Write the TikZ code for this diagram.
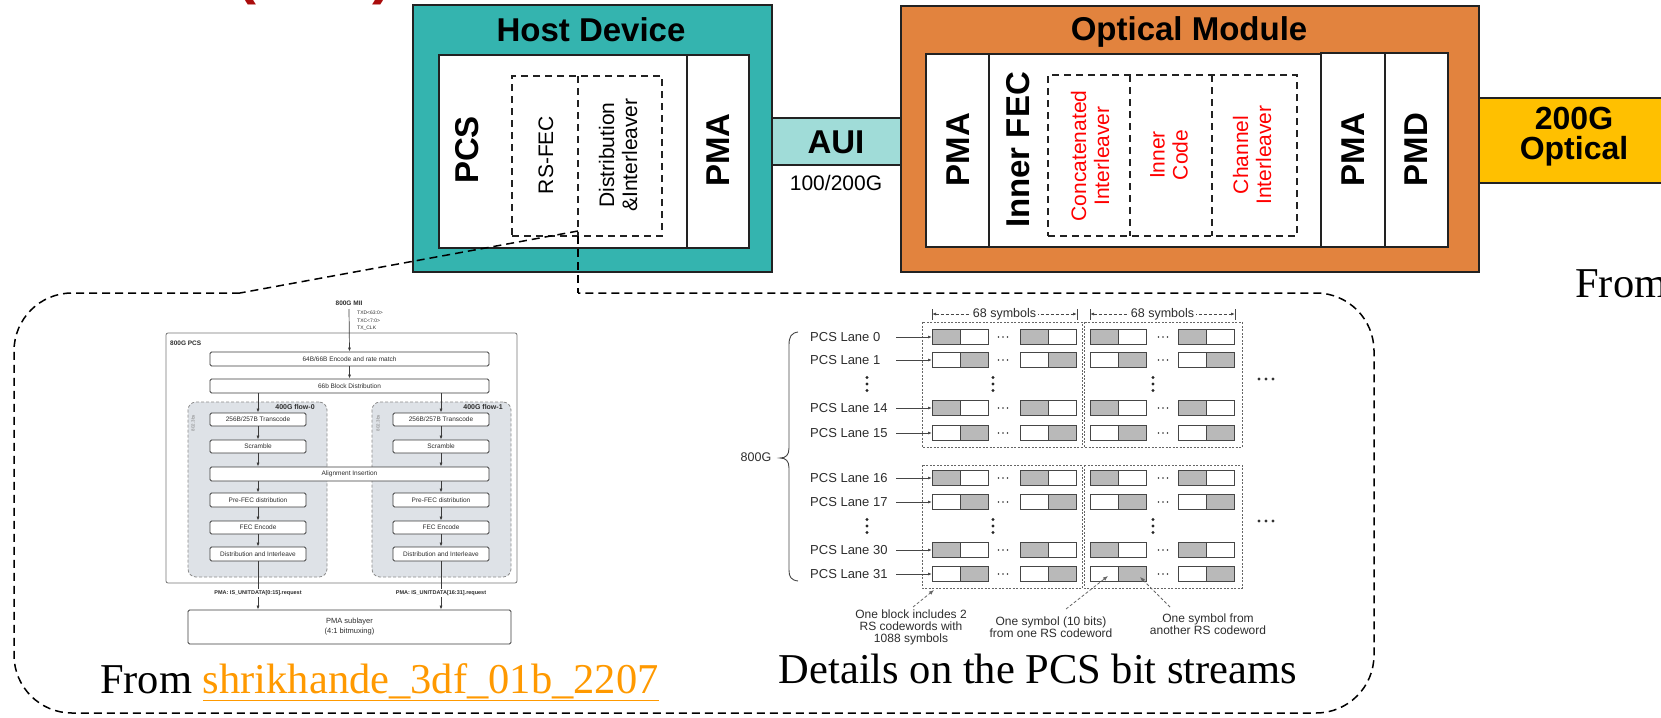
\documentclass[tikz,border=0pt]{standalone}
\usepackage{fontspec}
\setmainfont{Liberation Sans}
\newfontfamily\timesf{Liberation Serif}
\usetikzlibrary{arrows.meta}
\definecolor{tealc}{RGB}{52,180,175}
\definecolor{auic}{RGB}{160,220,216}
\definecolor{orngc}{RGB}{226,131,62}
\definecolor{goldc}{RGB}{255,192,0}
\definecolor{linko}{RGB}{255,153,0}
\definecolor{dredc}{RGB}{170,12,12}
\definecolor{edge}{RGB}{34,34,34}
\definecolor{flowg}{RGB}{222,226,231}
\definecolor{hatchc}{RGB}{185,185,185}
\definecolor{pline}{RGB}{60,60,60}
\definecolor{ptext}{RGB}{45,45,45}
\definecolor{sline}{RGB}{70,70,70}
\newcommand{\fsz}[1]{\fontsize{#1}{#1}\selectfont}
\newcommand{\symb}[3]{%
  \ifnum#3=1\relax
    \fill[hatchc] (#1,#2-7.5) rectangle (#1+28,#2+7.5);
  \else
    \fill[hatchc] (#1+28,#2-7.5) rectangle (#1+56,#2+7.5);
  \fi
  \draw[sline, line width=0.8pt] (#1,#2-7.5) rectangle (#1+56,#2+7.5);
  \draw[sline, line width=0.8pt] (#1+28,#2-7.5) -- (#1+28,#2+7.5);}
\newcommand{\mydotsh}[4]{\foreach \kk in {-1,0,1}{\fill[black!80] (#1+\kk*#3,#2) circle (#4);}}
\newcommand{\mydotsv}[2]{\foreach \kk in {-1,0,1}{\fill[black!85] (#1,#2+\kk*6.5) circle (1.6pt);}}
\begin{document}
\begin{tikzpicture}[x=1pt,y=-1pt,
  hbold/.style={font=\bfseries\fsz{33}, inner sep=0},
  rtext/.style={text=red, font=\fontsize{21}{23}\selectfont, align=center, rotate=90, inner sep=0},
  btext/.style={font=\fontsize{21}{23}\selectfont, align=center, rotate=90, inner sep=0},
  wbox/.style={draw=edge, line width=2pt, fill=white, inner sep=0},
  hdash/.style={draw=edge, line width=1.8pt, dash pattern=on 7pt off 5pt},
  callout/.style={draw=black, line width=1.5pt, dash pattern=on 8pt off 5pt},
  pbox/.style={draw=pline, line width=0.8pt, fill=white, rounded corners=1.5pt, inner sep=0, font=\fsz{6.5}, text=ptext},
  parr/.style={draw=pline, line width=0.7pt, -{Latex[length=4pt,width=3pt]}},
  flowbox/.style={draw=black!45, fill=flowg, dash pattern=on 3pt off 2pt, line width=0.8pt, rounded corners=8pt, inner sep=0},
  lane/.style={font=\fsz{13}, text=ptext, inner sep=0, anchor=west},
  blkdash/.style={draw=black!60, line width=0.8pt, dash pattern=on 2pt off 1.5pt},
  ann/.style={font=\fontsize{12}{12}\selectfont, text=ptext, align=center, inner sep=0},
  anndash/.style={draw=black!60, line width=0.8pt, dash pattern=on 3pt off 2pt, -{Latex[length=5pt,width=4pt]}},
  captxt/.style={font=\timesf\fsz{42.5}, inner sep=0}]
\useasboundingbox (0,0) rectangle (1661,717);

% cut-off red title
\node[anchor=base west, inner sep=0, text=dredc, font=\bfseries\fsz{60}] (tl) at (236,-7) {(};
\node[anchor=base west, inner sep=0, text=dredc, font=\bfseries\fsz{60}] (tr) at (372,-7) {)};

% Host device
\node[draw=edge, line width=2.5pt, fill=tealc, minimum width=359pt, minimum height=267pt, inner sep=0] (host) at (592.5,138.5) {};
\node[hbold] (hostt) at (591,30) {Host Device};
\node[wbox, minimum width=248pt, minimum height=193pt] (pcsb) at (563,151.5) {};
\node[wbox, minimum width=62pt, minimum height=193pt] (hpmab) at (718,151.5) {};
\node[hbold, rotate=90] (pcst) at (467,150) {PCS};
\node[hbold, rotate=90] (hpmat) at (718,150) {PMA};
\node[hdash, minimum width=150pt, minimum height=160pt, inner sep=0] (hd) at (587,156) {};
\coordinate (hdt) at (578,76);
\coordinate (hdb) at (578,236);
\draw[hdash] (hdt) -- (hdb);
\node[btext] (rsfec) at (546,155) {RS-FEC};
\node[btext] (distr) at (618,155) {Distribution\\\&Interleaver};

% AUI
\node[draw=edge, line width=2pt, fill=auic, minimum width=129pt, minimum height=47pt, inner sep=0] (aui) at (836.5,141.5) {};
\node[hbold] (auit) at (836,142) {AUI};
\node[font=\fsz{21}, inner sep=0] (auir) at (836,183) {100/200G};

% Optical module
\node[draw=edge, line width=2.5pt, fill=orngc, minimum width=578pt, minimum height=266pt, inner sep=0] (om) at (1190,139) {};
\node[hbold] (omt) at (1189,32) {Optical Module};
\node[wbox, minimum width=63pt, minimum height=193pt] (opma1) at (957.5,150.5) {};
\node[wbox, minimum width=332pt, minimum height=193pt] (ofec) at (1155,150.5) {};
\node[wbox, minimum width=64pt, minimum height=194pt] (opma2) at (1353,150) {};
\node[wbox, minimum width=63pt, minimum height=194pt] (opmd) at (1416.5,150) {};
\node[hdash, minimum width=249pt, minimum height=161pt, inner sep=0] (od) at (1172.5,155.5) {};
\coordinate (od1t) at (1130,75);
\coordinate (od1b) at (1130,236);
\coordinate (od2t) at (1212,75);
\coordinate (od2b) at (1212,236);
\draw[hdash] (od1t) -- (od1b);
\draw[hdash] (od2t) -- (od2b);
\node[hbold, rotate=90] (opma1t) at (958,149.5) {PMA};
\node[hbold, rotate=90] (ofect) at (1018,150) {Inner FEC};
\node[rtext] (conc) at (1090,156) {Concatenated\\Interleaver};
\node[rtext] (inco) at (1169,155) {Inner\\Code};
\node[rtext] (chan) at (1252,155) {Channel\\Interleaver};
\node[hbold, rotate=90] (opma2t) at (1353,149.5) {PMA};
\node[hbold, rotate=90] (opmdt) at (1416,149.5) {PMD};

% 200G optical
\node[draw=edge, line width=2.5pt, fill=goldc, minimum width=200pt, minimum height=85pt, inner sep=0] (g200) at (1579,140.5) {};
\node[font=\bfseries\fontsize{32}{30}\selectfont, align=center, inner sep=0] (g200t) at (1574,137) {200G\\Optical};

\node[captxt, anchor=base west] (from2) at (1575,297) {From};

% call-out
\coordinate (zA) at (578,231);
\coordinate (zL) at (240,293);
\coordinate (c1) at (14,293);
\coordinate (c2) at (14,713);
\coordinate (c3) at (1374,713);
\coordinate (c4) at (1374,293);
\coordinate (zR) at (578,293);
\draw[callout] (zA) -- (zL);
\draw[callout, rounded corners=58pt] (zL) -- (c1) -- (c2) -- (c3) -- (c4) -- (zR);
\draw[callout] (hdb) -- (zR);

% ---- 800G PCS figure
\node[draw=black!55, line width=0.8pt, rounded corners=2pt, minimum width=351pt, minimum height=250pt, inner sep=0] (pcsfig) at (341.5,458) {};
\node[flowbox, minimum width=139pt, minimum height=175pt] (fl0) at (257.5,489.5) {};
\node[flowbox, minimum width=139pt, minimum height=175pt] (fl1) at (441.5,489.5) {};
\node[font=\bfseries\fsz{6.5}, text=ptext, inner sep=0] (mii) at (349,303) {800G MII};
\node[font=\fsz{5}, text=ptext, inner sep=0, anchor=west] (txd) at (357,313) {TXD<63:0>};
\node[font=\fsz{5}, text=ptext, inner sep=0, anchor=west] (txc) at (357,321) {TXC<7:0>};
\node[font=\fsz{5}, text=ptext, inner sep=0, anchor=west] (txk) at (357,328) {TX\_CLK};
\node[font=\bfseries\fsz{6.5}, text=ptext, inner sep=0, anchor=west] (pcsl) at (170,343) {800G PCS};
\node[font=\bfseries\fsz{7}, text=ptext, inner sep=0] (f0l) at (295,407) {400G flow-0};
\node[font=\bfseries\fsz{7}, text=ptext, inner sep=0] (f1l) at (483,407) {400G flow-1};
\node[font=\fsz{4.5}, text=black!50, inner sep=0, rotate=90] (bs0) at (193,423) {802.3bs};
\node[font=\fsz{4.5}, text=black!50, inner sep=0, rotate=90] (bs1) at (378,423) {802.3bs};
\node[pbox, minimum width=279pt, minimum height=14pt] (enc) at (349.5,359) {64B/66B Encode and rate match};
\node[pbox, minimum width=279pt, minimum height=14pt] (d66) at (349.5,386) {66b Block Distribution};
\node[pbox, minimum width=279pt, minimum height=14pt] (al) at (349.5,474) {Alignment Insertion};
\foreach \c/\xx in {0/258,1/441}{
  \node[pbox, minimum width=96pt, minimum height=13pt] (tc\c) at (\xx,419.5) {256B/257B Transcode};
  \node[pbox, minimum width=96pt, minimum height=13pt] (sc\c) at (\xx,446.5) {Scramble};
  \node[pbox, minimum width=96pt, minimum height=14pt] (pf\c) at (\xx,500) {Pre-FEC distribution};
  \node[pbox, minimum width=96pt, minimum height=13pt] (fe\c) at (\xx,527.5) {FEC Encode};
  \node[pbox, minimum width=96pt, minimum height=14pt] (di\c) at (\xx,554) {Distribution and Interleave};
}
\node[pbox, minimum width=323pt, minimum height=34pt, align=center, font=\fontsize{7.5}{10}\selectfont] (pmas) at (349.5,627) {PMA sublayer\\(4:1 bitmuxing)};
\coordinate (miib) at (349,309);
\draw[parr] (miib) -- (enc.north);
\draw[parr] (enc.south) -- (d66.north);
\foreach \c in {0,1}{
  \draw[parr] (d66.south -| tc\c.north) -- (tc\c.north);
  \draw[parr] (tc\c.south) -- (sc\c.north);
  \draw[parr] (sc\c.south) -- (al.north -| sc\c.south);
  \draw[parr] (al.south -| pf\c.north) -- (pf\c.north);
  \draw[parr] (pf\c.south) -- (fe\c.north);
  \draw[parr] (fe\c.south) -- (di\c.north);
  \draw[parr] (di\c.south) -- (pmas.north -| di\c.south);
}
\node[font=\bfseries\fsz{5.5}, text=ptext, fill=white, inner sep=1pt] (u0) at (258,593) {PMA: IS\_UNITDATA[0:15].request};
\node[font=\bfseries\fsz{5.5}, text=ptext, fill=white, inner sep=1pt] (u1) at (441,593) {PMA: IS\_UNITDATA[16:31].request};

% ---- PCS bit streams figure
\draw[blkdash] (922,322) rectangle (1082,447);
\draw[blkdash] (1084,322) rectangle (1242,447);
\draw[blkdash] (922,465) rectangle (1082,588);
\draw[blkdash] (1084,465) rectangle (1242,588);
\foreach \yy/\hh in {337/1,360/0,408/1,433/0,478/1,502/0,550/1,574/0}{
  \foreach \xx in {932,1020,1090,1178}{\symb{\xx}{\yy}{\hh}}
  \mydotsh{1003}{\yy}{4.5}{0.9pt}
  \mydotsh{1163}{\yy}{4.5}{0.9pt}
}
\foreach \yy/\lnum in {337/0,360/1,408/14,433/15,478/16,502/17,550/30,574/31}{
  \node[lane] (lane\lnum) at (810,\yy) {PCS Lane \lnum};
  \coordinate (ls\lnum) at (896,\yy);
  \coordinate (le\lnum) at (932,\yy);
  \draw[draw=sline, line width=0.8pt, -{Latex[length=4pt,width=3pt]}] (ls\lnum) -- (le\lnum);
}
\foreach \yy in {384,526}{
  \mydotsv{867}{\yy}
  \mydotsv{993}{\yy}
  \mydotsv{1153}{\yy}
}
\mydotsh{1266}{379}{7}{1.6pt}
\mydotsh{1266}{521}{7}{1.6pt}
\foreach \aa/\bb in {932/1077,1090/1235}{
  \draw[sline, line width=0.8pt] (\aa,309) -- (\aa,320);
  \draw[sline, line width=0.8pt] (\bb,309) -- (\bb,320);
  \draw[sline, line width=0.8pt, dash pattern=on 3pt off 2pt, {Latex[length=4pt,width=3pt]}-{Latex[length=4pt,width=3pt]}] (\aa,314) -- (\bb,314);
  \node[font=\fsz{12.5}, text=ptext, fill=white, inner sep=2pt] at ({(\aa+\bb)/2},314) {68 symbols};
}
\draw[sline, line width=0.9pt] (798,332) .. controls (791,333) and (789,337) .. (789,345) -- (789,448) .. controls (789,455) and (786,458) .. (780,458) .. controls (786,458) and (789,461) .. (789,468) -- (789,570) .. controls (789,577) and (791,580) .. (798,581);
\node[font=\fsz{12.5}, text=ptext, inner sep=0] (g800) at (756,457) {800G};
\coordinate (a1s) at (913,607); \coordinate (a1e) at (934,590);
\coordinate (a2s) at (1066,609); \coordinate (a2e) at (1108,576);
\coordinate (a3s) at (1170,607); \coordinate (a3e) at (1140,577);
\draw[anndash] (a1s) -- (a1e);
\draw[anndash] (a2s) -- (a2e);
\draw[anndash] (a3s) -- (a3e);
\node[ann] (n1) at (911,627) {One block includes 2\\RS codewords with\\1088 symbols};
\node[ann] (n2) at (1051,627) {One symbol (10 bits)\\from one RS codeword};
\node[ann] (n3) at (1208,624) {One symbol from\\another RS codeword};

% captions
\node[captxt, anchor=base west] (cap1) at (100,693) {From \textcolor{linko}{\underline{shrikhande\_3df\_01b\_2207}}};
\node[captxt, anchor=base] (cap2) at (1038,683) {Details on the PCS bit streams};
\end{tikzpicture}
\end{document}
